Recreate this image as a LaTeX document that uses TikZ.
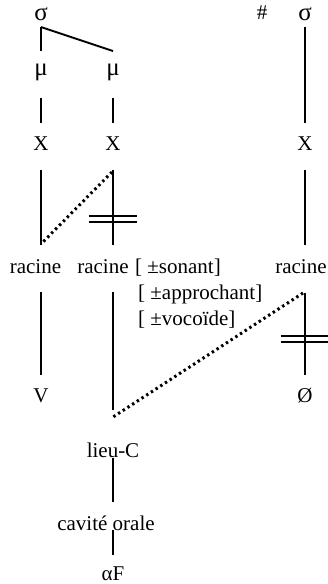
\documentclass[tikz,border=0pt]{standalone}
\usepackage{fontspec}
\setmainfont{Liberation Serif}
\usetikzlibrary{calc}
\begin{document}
\begin{tikzpicture}[x=1pt,y=-1pt,
  lbl/.style={inner sep=0pt, anchor=base, font=\fontsize{21}{25}\selectfont},
  greek/.style={lbl, font=\fontsize{25}{29}\selectfont},
  feat/.style={inner sep=0pt, anchor=base west, font=\fontsize{21}{25}\selectfont},
  edge/.style={line width=1.9pt},
  dots/.style={line width=3pt, dash pattern=on 2.4pt off 3.2pt},
  bar/.style={line width=1.9pt}]
\useasboundingbox (0,0) rectangle (328,584);
% nodes
\node[greek] (s1) at (41,20) {σ};
\node[lbl] (hash) at (262,19) {\#};
\node[greek] (s2) at (305,20) {σ};
\node[greek] (m1) at (41,75) {μ};
\node[greek] (m2) at (113,75) {μ};
\node[lbl] (x1) at (41,150) {X};
\node[lbl] (x2) at (113,150) {X};
\node[lbl] (x3) at (305,150) {X};
\node[lbl] (r1) at (35.5,273) {racine};
\node[lbl] (r2) at (103,273) {racine};
\node[lbl] (r3) at (301,273) {racine};
\node[feat] (f1) at (135,273) {[ ±sonant]};
\node[feat] (f2) at (138,299) {[ ±approchant]};
\node[feat] (f3) at (138,325) {[ ±vocoïde]};
\node[lbl] (v) at (41,402) {V};
\node[lbl] (o) at (305,402) {Ø};
\node[lbl] (l) at (113,457) {lieu-C};
\node[lbl] (c) at (106,530) {cavité orale};
\node[lbl] (a) at (113,580) {αF};
% connectors
\draw[edge] ($(s1.base)+(0,7)$) -- ($(m1.base)+(0,-24)$);
\draw[edge] ($(s1.base)+(0,7)$) -- ($(m2.base)+(0,-24)$);
\draw[edge] ($(m1.base)+(0,23)$) -- ($(x1.base)+(0,-27)$);
\draw[edge] ($(m2.base)+(0,23)$) -- ($(x2.base)+(0,-27)$);
\draw[edge] ($(s2.base)+(0,7)$) -- ($(x3.base)+(0,-27)$);
\draw[edge] ($(x1.base)+(0,20)$) -- ($(r1.base -| x1.base)+(0,-28)$);
\draw[edge] ($(x2.base)+(0,20)$) -- ($(r2.base -| x2.base)+(0,-28)$);
\draw[edge] ($(x3.base)+(0,20)$) -- ($(r3.base -| x3.base)+(0,-28)$);
\draw[edge] ($(r1.base -| x1.base)+(0,19)$) -- ($(v.base)+(0,-27)$);
\draw[edge] ($(r2.base -| x2.base)+(0,19)$) -- ($(l.base)+(0,-47)$);
\draw[edge] ($(r3.base -| x3.base)+(0,20)$) -- ($(o.base)+(0,-27)$);
\draw[edge] ($(l.base)+(0,1)$) -- ($(c.base -| l.base)+(0,-28)$);
\draw[edge] ($(c.base -| l.base)+(0,0)$) -- ($(a.base)+(0,-25)$);
% dotted association lines
\draw[dots] ($(x2.base)+(-1,22)$) -- ($(r1.base -| x1.base)+(0,-29)$);
\draw[dots] ($(r3.base -| x3.base)+(-2,20)$) -- ($(l.base)+(0,-40)$);
% delinking bars
\draw[bar] ($(x2.base)+(-24,65.7)$) -- ++(48,0);
\draw[bar] ($(x2.base)+(-24,72.3)$) -- ++(48,0);
\draw[bar] ($(x3.base)+(-24,185.7)$) -- ++(48,0);
\draw[bar] ($(x3.base)+(-24,192.3)$) -- ++(48,0);
\end{tikzpicture}
\end{document}
